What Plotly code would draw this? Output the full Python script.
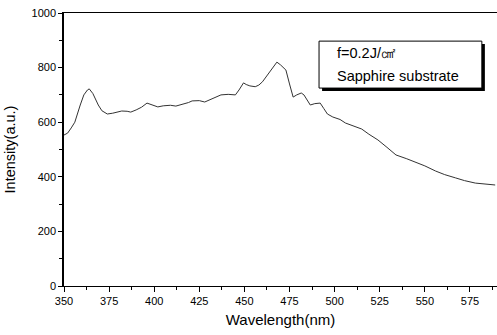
import plotly.graph_objects as go

wavelength = [350, 352, 354, 356, 359, 361, 363, 364, 366, 369, 371, 374, 377, 380, 382, 385, 387, 390, 393, 396, 399, 402, 405, 409, 412, 416, 419, 421, 425, 428, 431, 434, 437, 441, 445, 447, 449.5, 451, 453, 456, 458, 460, 462, 465, 468, 470, 473, 475, 477, 479, 481.5, 483, 485, 486.5, 489, 492, 494, 496, 499, 503, 506, 510, 515, 519, 524, 529, 534, 540, 545, 550, 556, 561, 567, 572, 578, 584, 589]
intensity = [553, 560, 579, 600, 663, 700, 718, 722, 705, 663, 642, 630, 633, 638, 641, 640, 637, 645, 655, 670, 662, 656, 660, 662, 659, 666, 672, 678, 679, 674, 683, 692, 700, 702, 700, 718, 744, 738, 733, 730, 736, 748, 766, 795, 820, 810, 791, 740, 692, 700, 707, 700, 681, 663, 668, 670, 650, 630, 619, 610, 597, 588, 575, 556, 535, 508, 480, 466, 454, 440, 421, 408, 396, 386, 377, 372, 370]

x_ticks = [350, 375, 400, 425, 450, 475, 500, 525, 550, 575]
y_ticks = [0, 200, 400, 600, 800, 1000]

fig = go.Figure()
fig.add_trace(go.Scatter(x=wavelength, y=intensity, mode="lines",
                         line=dict(color="#333333", width=1), showlegend=False))

font_family = "Liberation Sans, Arial, sans-serif"
fig.update_layout(
    width=497, height=335,
    margin=dict(l=64, r=0, t=13, b=49),
    paper_bgcolor="white", plot_bgcolor="white",
    font=dict(family=font_family, color="black"),
    xaxis=dict(range=[350, 590], tickvals=x_ticks, ticks="outside", ticklen=5,
               tickwidth=1, tickcolor="black", showline=True, linecolor="black",
               linewidth=1, mirror=True, showgrid=False, zeroline=False,
               tickfont=dict(size=11),
               minor=dict(dtick=12.5, tick0=350, ticks="outside", ticklen=3, tickcolor="black", showgrid=False),
               title=dict(text="Wavelength(nm)", font=dict(size=15), standoff=8)),
    yaxis=dict(range=[0, 1000], tickvals=y_ticks, ticks="outside", ticklen=4,
               tickwidth=1, tickcolor="black", showline=True, linecolor="black",
               linewidth=1.5, showgrid=False, zeroline=False,
               tickfont=dict(size=11),
               minor=dict(dtick=100, tick0=0, ticks="outside", ticklen=3, tickcolor="black", showgrid=False),
               title=dict(text="Intensity(a.u.)", font=dict(size=14.5), standoff=12)),
)

# legend-like box with drop shadow
fig.add_shape(type="rect", xref="paper", yref="paper", x0=0.596, x1=0.972, y0=0.714, y1=0.886,
              fillcolor="black", line=dict(color="black", width=0), layer="above")
fig.add_shape(type="rect", xref="paper", yref="paper", x0=0.589, x1=0.965, y0=0.725, y1=0.897,
              fillcolor="white", line=dict(color="black", width=1), layer="above")
fig.add_annotation(xref="paper", yref="paper", x=0.626, y=0.853, text="f=0.2J/㎠",
                   showarrow=False, xanchor="left", yanchor="middle", font=dict(size=14.5))
fig.add_annotation(xref="paper", yref="paper", x=0.626, y=0.769, text="Sapphire substrate",
                   showarrow=False, xanchor="left", yanchor="middle", font=dict(size=14.5))

fig.write_html("out.html")
